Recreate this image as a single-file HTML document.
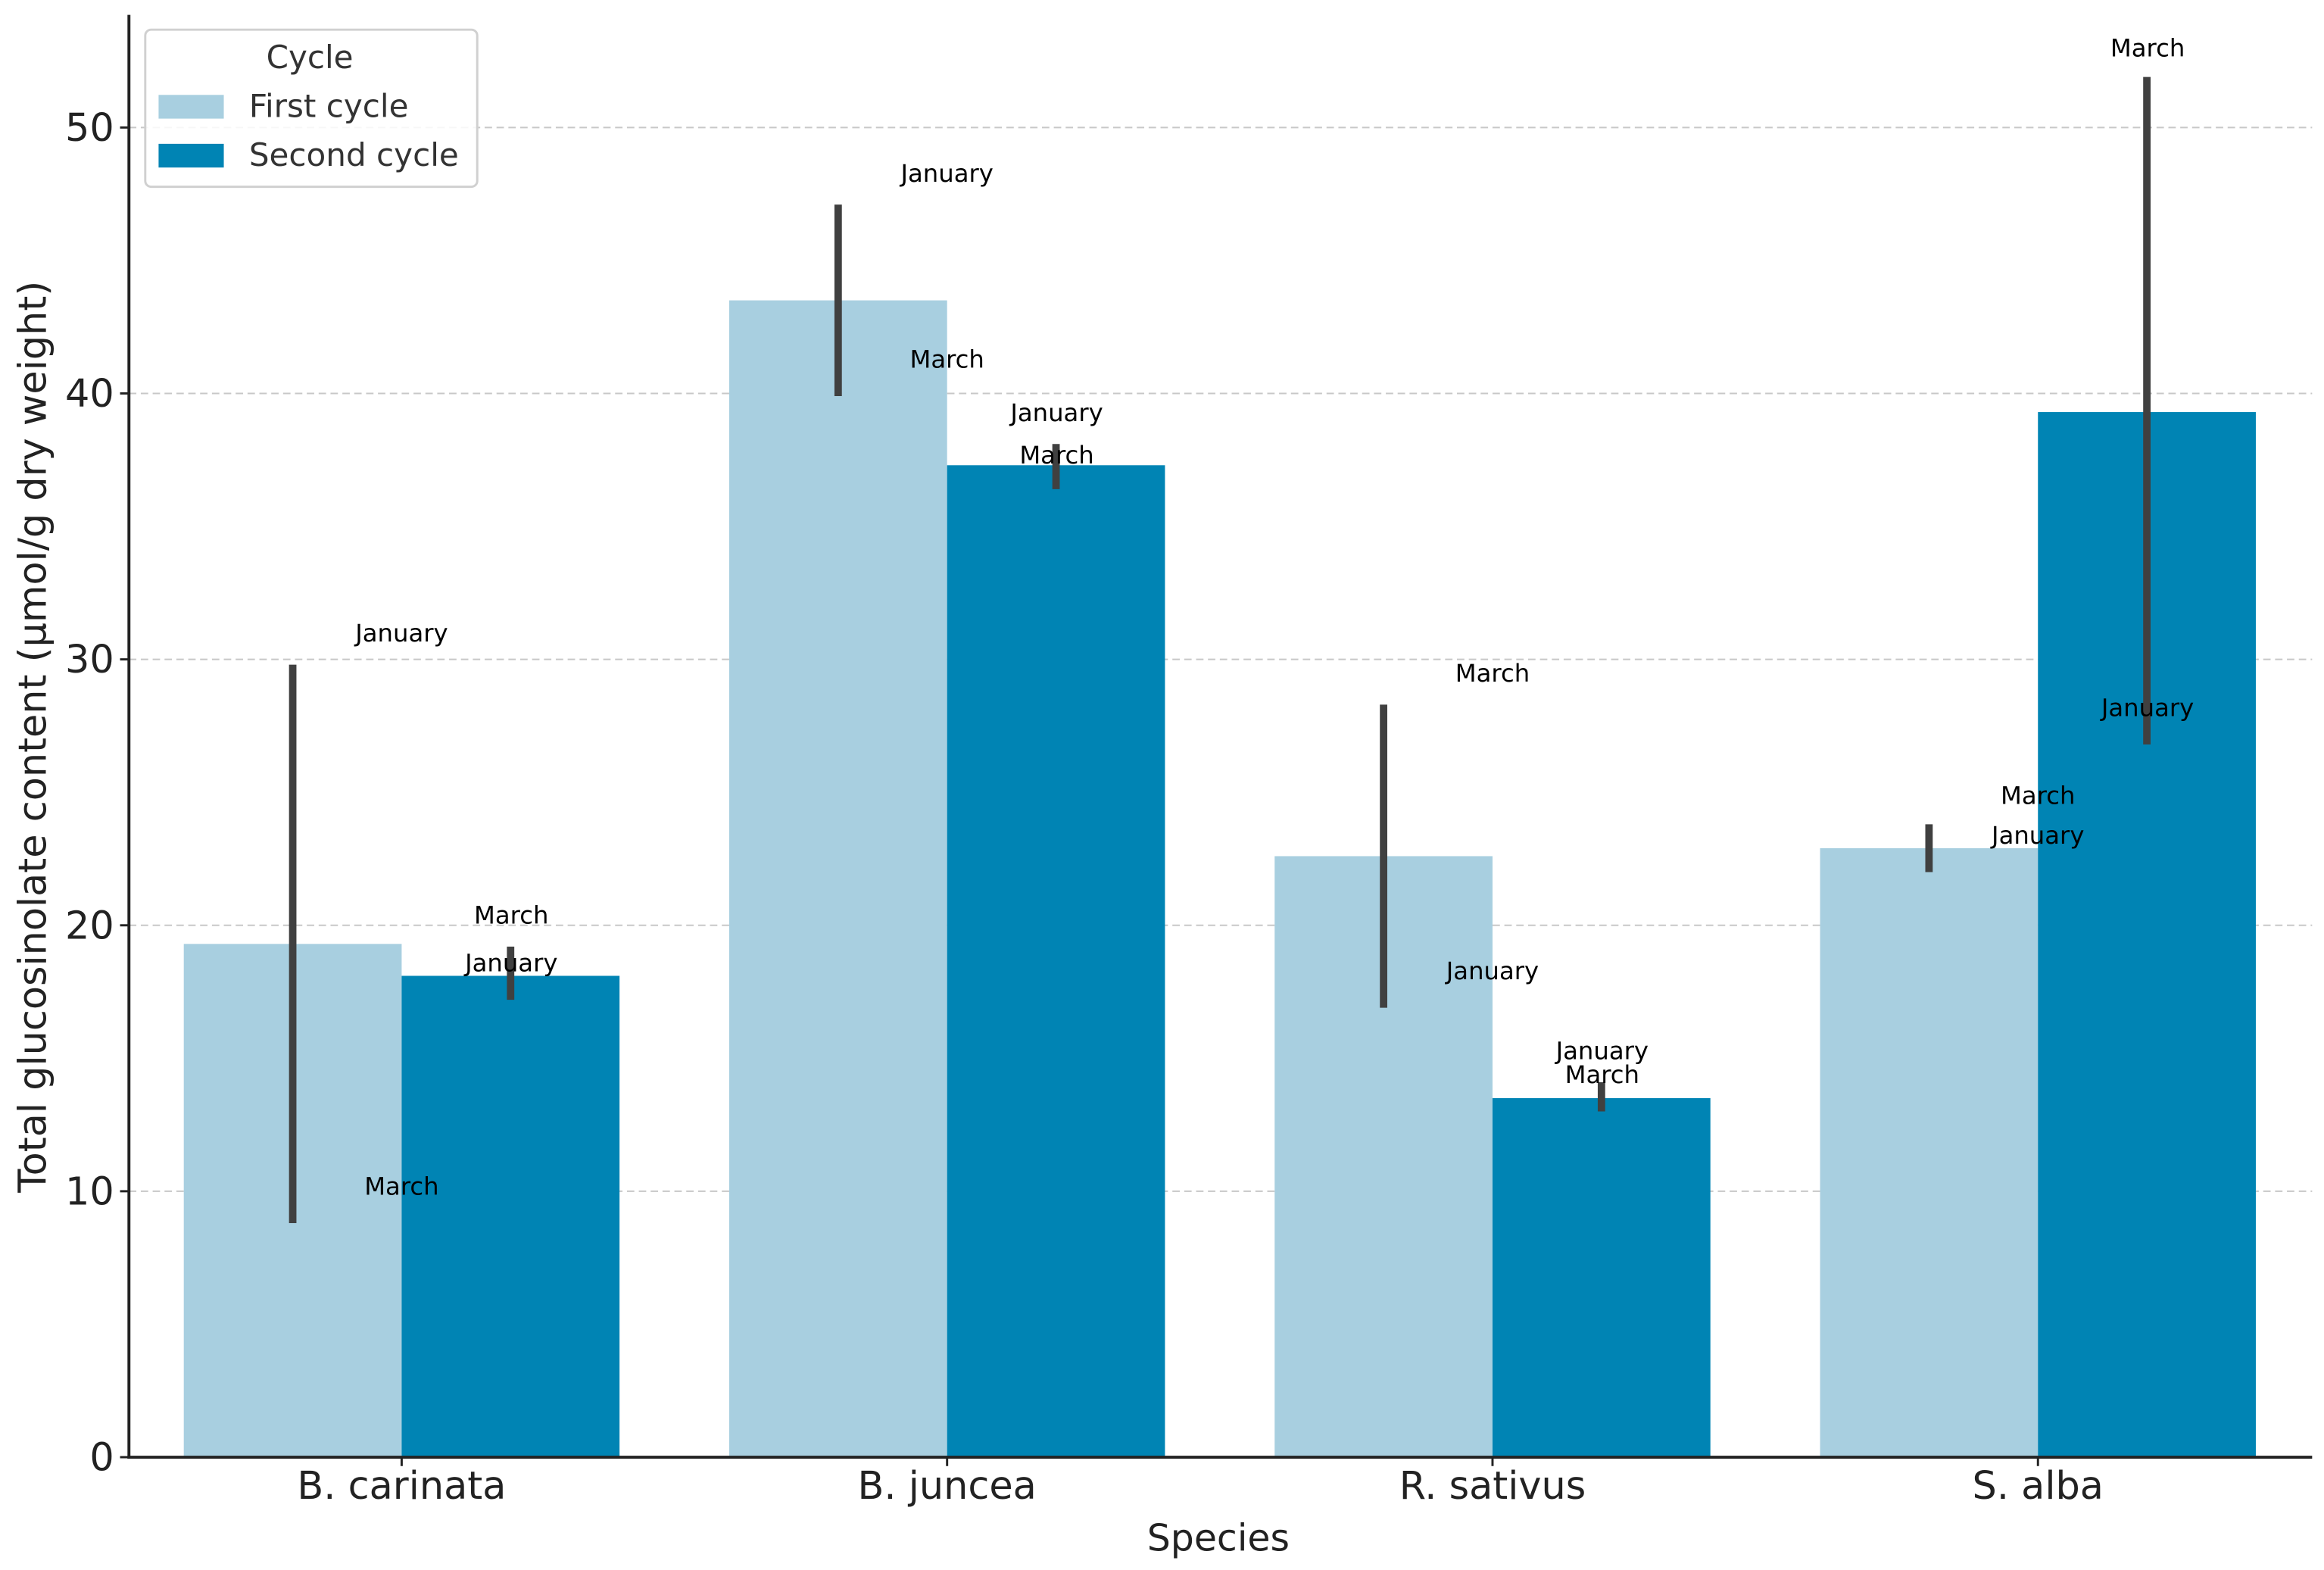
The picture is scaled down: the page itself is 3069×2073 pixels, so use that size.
<!DOCTYPE html>
<html><head><meta charset="utf-8"><style>html,body{margin:0;padding:0;background:#fff}svg{display:block}</style></head>
<body>
<svg id="chart" width="3069" height="2073" viewBox="0 0 1568 1059.1" xmlns="http://www.w3.org/2000/svg" font-family="DejaVu Sans, Liberation Sans, sans-serif">
<g id="grid"></g><g id="bars"></g><g id="errs"></g><g id="notes"></g><g id="axes"></g>
<g>
<rect x="98" y="20" width="224" height="106" rx="4" fill="#fff" fill-opacity="0.85" stroke="#d0d0d0" stroke-width="1.5"/>
<text x="209" y="46" font-size="21.5" text-anchor="middle" fill="#333">Cycle</text>
<rect x="107" y="64" width="44" height="16" fill="#a8cfe0"/>
<text x="168" y="79" font-size="21.5" fill="#333">First cycle</text>
<rect x="107" y="97" width="44" height="16" fill="#0084b4"/>
<text x="168" y="112" font-size="21.5" fill="#333">Second cycle</text>
</g>
<text x="0" y="0" transform="translate(31,497) rotate(-90)" font-size="26" text-anchor="middle" fill="#222">Total glucosinolate content (µmol/g dry weight)</text>
<text x="822" y="1046" font-size="25" text-anchor="middle" fill="#222">Species</text>
</svg>
<script>
const species = ["B. carinata","B. juncea","R. sativus","S. alba"];
const firstCycle = [19.3, 43.5, 22.6, 22.9];
const secondCycle = [18.1, 37.3, 13.5, 39.3];
const firstErrLow = [8.8, 39.9, 16.9, 22.0];
const firstErrHigh = [29.8, 47.1, 28.3, 23.8];
const secondErrLow = [17.2, 36.4, 13.0, 26.8];
const secondErrHigh = [19.2, 38.1, 14.1, 51.9];
const yTicks = [0,10,20,30,40,50];
const noteSpecies = [0,0,0,0,1,1,1,1,2,2,2,2,3,3,3,3];
const noteCycle =   [0,0,1,1,0,0,1,1,0,0,1,1,0,0,1,1];
const noteLabels = ["January","March","March","January","January","March","January","March","March","January","January","March","March","January","March","January"];
const noteValues = [31.0,10.2,20.4,18.6,48.3,41.3,39.3,37.7,29.5,18.3,15.3,14.4,24.9,23.4,53.0,28.2];

const NS="http://www.w3.org/2000/svg";
const X0=87, X1=1560, Y0=983, PX=17.94, STEP=368;
const y = v => Y0 - v*PX;
const xc = i => X0 + STEP*(i+0.5);
const BW=147;
function mk(tag, attrs, parent){const e=document.createElementNS(NS,tag);for(const k in attrs)e.setAttribute(k,attrs[k]);document.getElementById(parent).appendChild(e);return e;}

yTicks.forEach(t=>{
  if(t>0){const g=mk('line',{x1:X0,x2:X1,y1:y(t),y2:y(t),stroke:'#c8c8c8','stroke-width':1,'stroke-dasharray':'5,3'},'grid');
  
  }
  const tk=mk('line',{x1:X0-6,x2:X0,y1:y(t),y2:y(t),stroke:'#222','stroke-width':1.5},'axes');
  
  
  const tl=mk('text',{x:X0-10,y:y(t)+9,'font-size':26,'text-anchor':'end',fill:'#222'},'axes');
  tl.textContent=t;
  
  
});
const cols=['#a8cfe0','#0084b4'];
species.forEach((s,i)=>{
  const vals=[firstCycle[i],secondCycle[i]], lo=[firstErrLow[i],secondErrLow[i]], hi=[firstErrHigh[i],secondErrHigh[i]];
  [0,1].forEach(c=>{
    const left=xc(i)-BW+c*BW;
    const b=mk('rect',{x:left,y:y(vals[c]),width:BW,height:Y0-y(vals[c]),fill:cols[c]},'bars');
    
    
    const e=mk('line',{x1:left+BW/2,x2:left+BW/2,y1:y(lo[c]),y2:y(hi[c]),stroke:'#404040','stroke-width':5},'errs');
    
    
  });
  const tk=mk('line',{x1:xc(i),x2:xc(i),y1:Y0,y2:Y0+6,stroke:'#222','stroke-width':1.5},'axes');
  
  
  const tl=mk('text',{x:xc(i),y:1011,'font-size':26,'text-anchor':'middle',fill:'#222'},'axes');
  tl.textContent=s;
  
  
});
noteLabels.forEach((l,k)=>{
  const x=xc(noteSpecies[k]) + (noteCycle[k]===0?0:BW/2+0.5);
  const t=mk('text',{x:x,y:y(noteValues[k])+6,'font-size':16.5,'text-anchor':'middle',fill:'#000'},'notes');
  t.textContent=l;
  
  
});
const ls=mk('line',{x1:X0,x2:X0,y1:10,y2:Y0+1,stroke:'#222','stroke-width':2},'axes');


const bs=mk('line',{x1:X0-1,x2:X1,y1:Y0,y2:Y0,stroke:'#222','stroke-width':2},'axes');


</script>
</body></html>
